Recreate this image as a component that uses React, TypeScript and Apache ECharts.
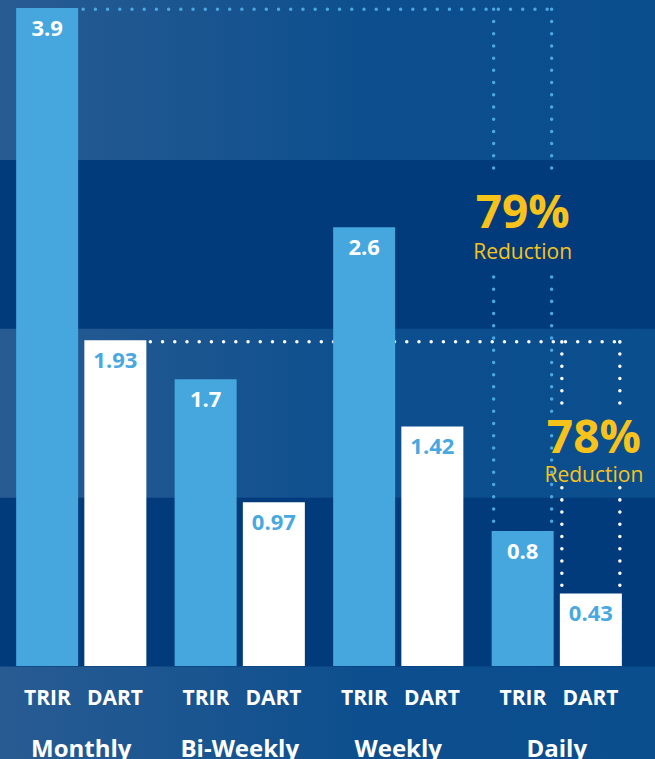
import React, { useEffect, useRef } from 'react';
import * as echarts from 'echarts';

// ---- data ----
const groups = ['Monthly', 'Bi-Weekly', 'Weekly', 'Daily'];
const barNames = ['TRIR', 'DART'];
const trirValues = [3.9, 1.7, 2.6, 0.8];
const dartValues = [1.93, 0.97, 1.42, 0.43];
const yMax = 3.9;
const bandInterval = 1;
// reduction annotations (value-axis positions of the texts)
const reductionLabels = ['79%', '78%'];
const reductionSub = 'Reduction';
const reductionValueY = [2.7, 1.37];
const reductionSubY = [2.46, 1.14];

const FONT = '"Open Sans", "DejaVu Sans", sans-serif';
const LIGHT_BLUE = '#45a7de';
const DOT_BLUE = '#4aa8e0';
const YELLOW = '#f7c31b';
const DARK_BAND = '#013b7b';

export default function App() {
  const ref = useRef<HTMLDivElement>(null);

  useEffect(() => {
    const el = ref.current;
    if (!el) return;
    const chart = echarts.init(el, null, { renderer: 'svg' });

    const labelStyle = {
      show: true,
      position: 'insideTop' as const,
      distance: 8,
      fontSize: 22,
      fontWeight: 'bold' as const,
      fontFamily: FONT,
    };

    chart.setOption({
      animation: false,
      backgroundColor: 'transparent',
      grid: [
        { left: 2, right: 19, top: 8, bottom: 92.5 },
        { left: 0, right: 0, top: 8, bottom: 92.5 },
      ],
      xAxis: [
        {
          type: 'category',
          gridIndex: 0,
          data: groups,
          axisLine: { show: false },
          axisTick: { show: false },
          axisLabel: {
            interval: 0,
            margin: 6,
            formatter: (v: string) => `{s|${barNames[0]}}{s|${barNames[1]}}\n{g|${v}}`,
            rich: {
              s: {
                width: 67.5,
                align: 'center',
                color: '#ffffff',
                fontSize: 21,
                fontWeight: 'bold',
                fontFamily: FONT,
                lineHeight: 50,
              },
              g: {
                color: '#ffffff',
                fontSize: 24,
                fontWeight: 'bold',
                fontFamily: FONT,
                lineHeight: 50,
              },
            },
          },
        },
        {
          type: 'category',
          gridIndex: 1,
          data: groups,
          show: false,
        },
      ],
      yAxis: [
        {
          type: 'value',
          gridIndex: 0,
          min: 0,
          max: yMax,
          interval: bandInterval,
          show: false,
        },
        {
          type: 'value',
          gridIndex: 1,
          min: 0,
          max: yMax,
          interval: bandInterval,
          axisLine: { show: false },
          axisTick: { show: false },
          axisLabel: { show: false },
          splitLine: { show: false },
          splitArea: { show: true, areaStyle: { color: [DARK_BAND, 'rgba(0,0,0,0)'] } },
        },
      ],
      series: [
        {
          type: 'bar',
          name: barNames[0],
          xAxisIndex: 0,
          yAxisIndex: 0,
          data: trirValues,
          barWidth: 62,
          barGap: '10%',
          itemStyle: { color: LIGHT_BLUE },
          label: { ...labelStyle, color: '#ffffff' },
          z: 3,
        },
        {
          type: 'bar',
          name: barNames[1],
          xAxisIndex: 0,
          yAxisIndex: 0,
          data: dartValues,
          barWidth: 62,
          barGap: '10%',
          itemStyle: { color: '#ffffff' },
          label: { ...labelStyle, color: DOT_BLUE },
          z: 3,
        },
      ],
    });

    // --- annotations computed from the library's own bar layout ---
    const layoutOf = (seriesIndex: number, idx: number) => {
      const data = (chart as any).getModel().getSeriesByIndex(seriesIndex).getData();
      const l = data.getItemLayout(idx);
      return {
        x0: l.x,
        x1: l.x + l.width,
        cx: l.x + l.width / 2,
        top: Math.min(l.y, l.y + l.height),
        base: Math.max(l.y, l.y + l.height),
      };
    };
    const yPix = (v: number) => chart.convertToPixel({ yAxisIndex: 0 }, v) as number;

    const dotted = (x1: number, y1: number, x2: number, y2: number, color: string) => ({
      type: 'line',
      silent: true,
      z: 1,
      shape: { x1, y1, x2, y2 },
      style: { stroke: color, lineWidth: 3.5, lineDash: [0.01, 12.2], lineCap: 'round' },
    });

    const last = groups.length - 1;
    const t0 = layoutOf(0, 0);
    const t3 = layoutOf(0, last);
    const d0 = layoutOf(1, 0);
    const d3 = layoutOf(1, last);

    const graphics: any[] = [];

    // blue (TRIR) bracket
    const yb = t0.top + 1.3;
    const gapB = [yPix(reductionValueY[0]) - 33, yPix(reductionSubY[0]) + 26];
    graphics.push(dotted(t0.x1 + 5, yb, t3.x1 - 2, yb, DOT_BLUE));
    [t3.x0 + 2, t3.x1 - 2].forEach((x) => {
      graphics.push(dotted(x, yb, x, gapB[0], DOT_BLUE));
      graphics.push(dotted(x, gapB[1], x, t3.top, DOT_BLUE));
    });

    // white (DART) bracket
    const yw = d0.top + 1.5;
    const gapW = [yPix(reductionValueY[1]) - 29, yPix(reductionSubY[1]) + 14];
    graphics.push(dotted(d0.x1 + 4, yw, d3.x1 - 2, yw, '#ffffff'));
    [d3.x0 + 2, d3.x1 - 2].forEach((x) => {
      graphics.push(dotted(x, yw, x, gapW[0], '#ffffff'));
      graphics.push(dotted(x, gapW[1], x, d3.base, '#ffffff'));
    });

    const textCenters = [t3.cx, d3.cx + 3];
    reductionLabels.forEach((lab, i) => {
      graphics.push({
        type: 'text',
        silent: true,
        z: 5,
        x: textCenters[i],
        y: yPix(reductionValueY[i]),
        style: {
          text: lab,
          fill: YELLOW,
          font: `bold 46px ${FONT}`,
          align: 'center',
          verticalAlign: 'middle',
        },
      });
      graphics.push({
        type: 'text',
        silent: true,
        z: 5,
        x: textCenters[i],
        y: yPix(reductionSubY[i]),
        style: {
          text: reductionSub,
          fill: YELLOW,
          font: `normal 21px ${FONT}`,
          align: 'center',
          verticalAlign: 'middle',
        },
      });
    });

    chart.setOption({ graphic: graphics });

    return () => chart.dispose();
  }, []);

  return (
    <div
      ref={ref}
      style={{
        position: 'absolute',
        left: 0,
        top: 0,
        width: 655,
        height: 759,
        background: 'linear-gradient(90deg, #285b92 0%, #1a5590 30%, #0d4f8e 55%, #0b4e8d 100%)',
      }}
    />
  );
}
